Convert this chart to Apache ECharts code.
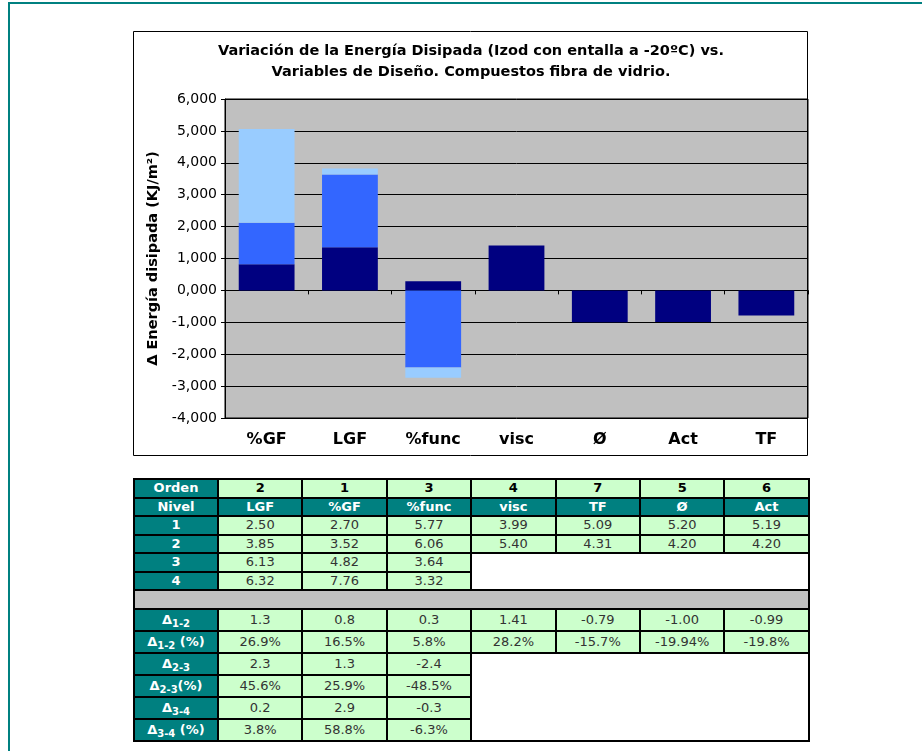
<!DOCTYPE html>
<html>
<head>
<meta charset="utf-8">
<script src="https://cdn.jsdelivr.net/npm/echarts@6/dist/echarts.min.js"></script>
<style>
  html,body{margin:0;padding:0;background:#fff;}
  body{width:922px;height:751px;position:relative;overflow:hidden;font-family:"DejaVu Sans",Verdana,sans-serif;}
  #frame{position:absolute;left:8px;top:2px;width:940px;height:800px;border-top:2px solid #008080;border-left:2px solid #008080;}
  #chart{position:absolute;left:133px;top:31px;width:676px;height:426px;}
  #tbl{position:absolute;left:133px;top:478px;border-collapse:collapse;table-layout:fixed;width:675px;}
  #tbl td{border:2px solid #000;text-align:center;padding:0;font-size:13px;line-height:14px;overflow:hidden;white-space:nowrap;}
  #tbl td.h{background:#008080;color:#fff;font-weight:bold;}
  #tbl td.g{background:#CCFFCC;color:#333;}
  #tbl td.gb{background:#CCFFCC;color:#000;font-weight:bold;}
  #tbl td.w{background:#fff;}
  #tbl td.gray{background:#C0C0C0;height:17px;}
  #tbl tr.s td{height:16.5px;}
  #tbl tr.b td{height:20px;}
  #tbl sub{font-size:10px;vertical-align:-3px;line-height:0;}
</style>
</head>
<body>
<div id="frame"></div>
<div id="chart"></div>
<table id="tbl"></table>
<script>
// ---- Chart data ----
const categories = ['%GF', 'LGF', '%func', 'visc', 'Ø', 'Act', 'TF'];
const delta12 = [820, 1350, 290, 1410, -1000, -990, -790];
const delta23 = [1300, 2280, -2420, null, null, null, null];
const delta34 = [2940, 190, -320, null, null, null, null];
const yTicks = { min: -4000, max: 6000, step: 1000 };

// ---- Table data ----
const ordenRow = ['2', '1', '3', '4', '7', '5', '6'];
const nivelRow = ['LGF', '%GF', '%func', 'visc', 'TF', 'Ø', 'Act'];
const nivel1 = ['2.50', '2.70', '5.77', '3.99', '5.09', '5.20', '5.19'];
const nivel2 = ['3.85', '3.52', '6.06', '5.40', '4.31', '4.20', '4.20'];
const nivel3 = ['6.13', '4.82', '3.64'];
const nivel4 = ['6.32', '7.76', '3.32'];
const d12 = ['1.3', '0.8', '0.3', '1.41', '-0.79', '-1.00', '-0.99'];
const d12p = ['26.9%', '16.5%', '5.8%', '28.2%', '-15.7%', '-19.94%', '-19.8%'];
const d23 = ['2.3', '1.3', '-2.4'];
const d23p = ['45.6%', '25.9%', '-48.5%'];
const d34 = ['0.2', '2.9', '-0.3'];
const d34p = ['3.8%', '58.8%', '-6.3%'];

// ---- Build table ----
function cells(arr, cls) { return arr.map(v => '<td class="' + cls + '">' + v + '</td>').join(''); }
let html = '<colgroup><col style="width:84px">' + '<col style="width:84.4px">'.repeat(7) + '</colgroup>';
html += '<tr class="s"><td class="h">Orden</td>' + cells(ordenRow, 'gb') + '</tr>';
html += '<tr class="s"><td class="h">Nivel</td>' + cells(nivelRow, 'h') + '</tr>';
html += '<tr class="s"><td class="h">1</td>' + cells(nivel1, 'g') + '</tr>';
html += '<tr class="s"><td class="h">2</td>' + cells(nivel2, 'g') + '</tr>';
html += '<tr class="s"><td class="h">3</td>' + cells(nivel3, 'g') + '<td class="w" colspan="4" rowspan="2"></td></tr>';
html += '<tr class="s"><td class="h">4</td>' + cells(nivel4, 'g') + '</tr>';
html += '<tr><td class="gray" colspan="8"></td></tr>';
html += '<tr class="b"><td class="h">&Delta;<sub>1-2</sub></td>' + cells(d12, 'g') + '</tr>';
html += '<tr class="b"><td class="h">&Delta;<sub>1-2</sub> (%)</td>' + cells(d12p, 'g') + '</tr>';
html += '<tr class="b"><td class="h">&Delta;<sub>2-3</sub></td>' + cells(d23, 'g') + '<td class="w" colspan="4" rowspan="4"></td></tr>';
html += '<tr class="b"><td class="h">&Delta;<sub>2-3</sub>(%)</td>' + cells(d23p, 'g') + '</tr>';
html += '<tr class="b"><td class="h">&Delta;<sub>3-4</sub></td>' + cells(d34, 'g') + '</tr>';
html += '<tr class="b"><td class="h">&Delta;<sub>3-4</sub> (%)</td>' + cells(d34p, 'g') + '</tr>';
document.getElementById('tbl').innerHTML = html;

// ---- Chart ----
const chart = echarts.init(document.getElementById('chart'), null, { renderer: 'canvas' });
const FONT = '"DejaVu Sans", Verdana, sans-serif';
function fmt(v) { return (v < 0 ? '-' : '') + Math.abs(v / 1000) + ',000'; }
const colors = ['#000080', '#3366FF', '#99CCFF'];
const seriesData = [delta12, delta23, delta34];
chart.setOption({
  animation: false,
  backgroundColor: '#fff',
  title: {
    text: 'Variación de la Energía Disipada (Izod con entalla a -20ºC) vs.\nVariables de Diseño. Compuestos fibra de vidrio.',
    left: 'center', top: 10, padding: 0,
    textStyle: { fontFamily: FONT, fontSize: 14.5, fontWeight: 'bold', color: '#000', lineHeight: 21 }
  },
  graphic: [{
    type: 'rect', shape: { x: 0.5, y: 0.5, width: 674, height: 424 },
    style: { fill: null, stroke: '#000', lineWidth: 1 }, silent: true, z: 100
  }],
  grid: {
    left: 92, top: 68, right: 1, bottom: 39,
    show: true, backgroundColor: '#C0C0C0', borderColor: '#000', borderWidth: 1
  },
  xAxis: [{
    type: 'category', data: categories, position: 'bottom',
    axisLine: { show: false, onZero: false }, axisTick: { show: false },
    axisLabel: { fontFamily: FONT, fontSize: 16, fontWeight: 'bold', color: '#000', margin: 14 }
  }, {
    type: 'category', data: categories, position: 'top',
    axisLine: { show: true, onZero: true, lineStyle: { color: '#000', width: 1 } },
    axisTick: { show: true, inside: true, length: 4, lineStyle: { color: '#000' } },
    axisLabel: { show: false }
  }],
  yAxis: {
    type: 'value', min: yTicks.min, max: yTicks.max, interval: yTicks.step,
    name: 'Δ Energía disipada (KJ/m²)', nameLocation: 'middle', nameGap: 63,
    nameTextStyle: { fontFamily: FONT, fontSize: 14.5, fontWeight: 'bold', color: '#000' },
    axisLine: { show: true, lineStyle: { color: '#000' } },
    axisTick: { show: true, length: 4, lineStyle: { color: '#000' } },
    axisLabel: { formatter: fmt, fontFamily: FONT, fontSize: 14, color: '#000', margin: 8 },
    splitLine: { show: true, lineStyle: { color: '#000', width: 1 } }
  },
  series: seriesData.map((d, i) => ({
    type: 'bar', stack: 'total', xAxisIndex: 0, data: d,
    barWidth: '67%', itemStyle: { color: colors[i] }
  }))
});
</script>
</body>
</html>
